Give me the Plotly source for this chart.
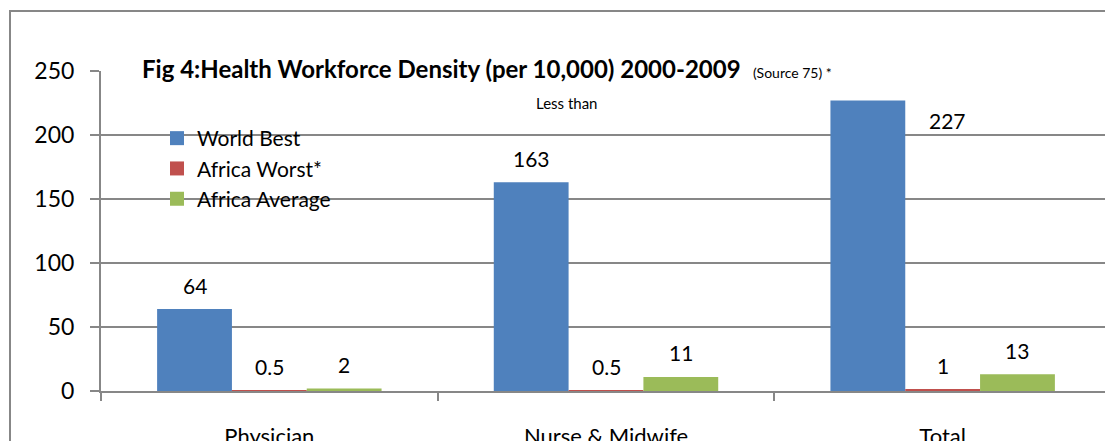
"""Health workforce density bar chart (Excel-style clustered columns)."""
import plotly.graph_objects as go

FONT = "Lato"
GRID = "#878787"
PAGE_PAD = 8  # default body margin of the html page

categories = ["Physician", "Nurse & Midwife", "Total"]
series_names = ["World Best", "Africa Worst*", "Africa Average"]
world_best = [64, 163, 227]
africa_worst = [0.5, 0.5, 1]
africa_average = [2, 11, 13]
value_labels = [["64", "163", "227"], ["0.5", "0.5", "1"], ["2", "11", "13"]]
colors = ["#4F81BD", "#C0504D", "#9BBB59"]
y_ticks = [0, 50, 100, 150, 200, 250]

series_values = [world_best, africa_worst, africa_average]

# plot area in page pixels: x 101..1111, y 71..391
PX_L, PX_R, PX_T, PX_B = 101, 1111, 71, 391


def px_x(x):
    return (x - PX_L) / (PX_R - PX_L)


def px_y(y):
    return (PX_B - y) / (PX_B - PX_T)


fig = go.Figure()
for name, vals, col in zip(series_names, series_values, colors):
    fig.add_trace(
        go.Bar(
            x=categories,
            y=vals,
            name=name,
            legendgroup=name,
            showlegend=False,
            marker={"color": col, "line": {"width": 0}},
            hoverinfo="skip",
        )
    )
    # bigger square swatch for the legend than plotly's bar swatch
    fig.add_trace(
        go.Scatter(
            x=[None],
            y=[None],
            mode="markers",
            name=name,
            legendgroup=name,
            marker={"symbol": "square", "size": 14, "color": col},
        )
    )

# data labels sit ~24px above each bar; the 227 label was nudged by hand in the original
n = len(series_names)
gap = 1.5 / 4.5
step = (1 - gap) / n
for s, labels in enumerate(value_labels):
    for i, lab in enumerate(labels):
        xs, ys = 0, 24
        if s == 0 and i == 2:
            xs, ys = 80, -20
        fig.add_annotation(
            x=i + (s - (n - 1) / 2) * step,
            y=series_values[s][i],
            xref="x",
            yref="y",
            xanchor="center",
            yanchor="middle",
            text=lab,
            showarrow=False,
            xshift=xs,
            yshift=ys,
            font={"family": FONT, "size": 21, "color": "#000000"},
        )

fig.add_annotation(
    x=px_x(140),
    y=px_y(68),
    xref="paper",
    yref="paper",
    xanchor="left",
    yanchor="middle",
    showarrow=False,
    text="<b>Fig 4:Health Workforce Density (per 10,000) 2000-2009</b>  "
    "<span style='font-size:14px'>(Source 75) *</span>",
    font={"family": FONT, "size": 24, "color": "#000000"},
)
fig.add_annotation(
    x=px_x(566),
    y=px_y(103),
    xref="paper",
    yref="paper",
    xanchor="center",
    yanchor="middle",
    showarrow=False,
    text="Less than",
    font={"family": FONT, "size": 15, "color": "#000000"},
)

# outer chart frame (bottom/right fall outside the picture)
fig.add_shape(
    type="rect",
    xref="paper",
    yref="paper",
    x0=px_x(10),
    x1=1.05,
    y0=-0.4,
    y1=px_y(11),
    line={"color": GRID, "width": 2},
    fillcolor="rgba(0,0,0,0)",
    layer="below",
)

fig.update_layout(
    width=1113 - PAGE_PAD,
    height=441 - PAGE_PAD,
    margin={
        "l": PX_L - PAGE_PAD,
        "r": 1113 - PX_R,
        "t": PX_T - PAGE_PAD,
        "b": 441 - PX_B,
        "autoexpand": False,
    },
    paper_bgcolor="white",
    plot_bgcolor="white",
    barmode="group",
    bargap=gap,
    bargroupgap=0,
    font={"family": FONT, "size": 22, "color": "#000000"},
    showlegend=True,
    legend={
        "x": px_x(157),
        "y": px_y(118),
        "xanchor": "left",
        "yanchor": "top",
        "bgcolor": "rgba(0,0,0,0)",
        "font": {"family": FONT, "size": 21},
        "itemwidth": 30,
        "tracegroupgap": 0,
    },
)
fig.update_xaxes(
    type="category",
    showline=True,
    linecolor=GRID,
    linewidth=2,
    ticks="outside",
    tickson="boundaries",
    ticklen=8,
    tickcolor=GRID,
    tickwidth=2,
    ticklabelstandoff=25,
    automargin=False,
    tickfont={"family": FONT, "size": 22},
    showgrid=False,
)
fig.update_yaxes(
    range=[0, 250],
    tickvals=y_ticks,
    showline=True,
    linecolor=GRID,
    linewidth=2,
    ticks="outside",
    ticklen=9,
    tickcolor=GRID,
    tickwidth=2,
    ticklabelstandoff=11,
    showgrid=True,
    gridcolor=GRID,
    gridwidth=2,
    zeroline=False,
    automargin=False,
    tickfont={"family": FONT, "size": 23},
)

fig.write_html("out.html")
